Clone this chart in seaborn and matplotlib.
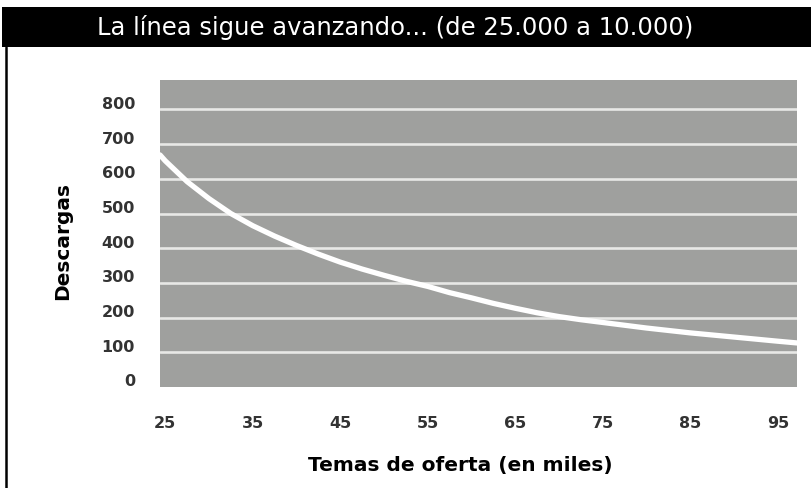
import matplotlib
matplotlib.use("Agg")
import matplotlib.pyplot as plt
import matplotlib.transforms as mtransforms
from matplotlib.patches import Rectangle
from matplotlib.lines import Line2D
import pandas as pd
import seaborn as sns

# values
temas = [24.4, 25, 27.5, 30, 32.5, 35, 37.5, 40, 42.5, 45, 47.5, 50, 52.5, 55, 57.5, 60,
         62.5, 65, 67.5, 70, 72.5, 75, 77.5, 80, 82.5, 85, 87.5, 90, 92.5, 95, 97.2]
descargas = [669, 652, 592, 543, 500, 465, 435, 408, 383, 360, 340, 322, 305, 290, 272, 257,
             241, 227, 214, 203, 194, 186, 178, 170, 163, 156, 150, 144, 138, 132, 127]
x_ticks = [25, 35, 45, 55, 65, 75, 85, 95]
y_ticks = [0, 100, 200, 300, 400, 500, 600, 700, 800]

df = pd.DataFrame({"Temas": temas, "Descargas": descargas})

sns.set_style("white")
plt.rcParams["font.family"] = ["DejaVu Sans"]

fig = plt.figure(figsize=(8.11, 4.88), dpi=100)
ax = fig.add_axes([160 / 811, 101 / 488, 637 / 811, 307 / 488])
ax.set_facecolor("#9fa09e")

for v in y_ticks[1:]:
    ax.axhline(v, color="#e8e8e6", linewidth=1.9, zorder=1)

sns.lineplot(data=df, x="Temas", y="Descargas", ax=ax, color="white",
             linewidth=3.8, zorder=3)

ax.set_xlim(24.4, 97.2)
ax.set_ylim(0, 885)
ax.set_xticks(x_ticks)
ax.set_yticks(y_ticks)
for s in ax.spines.values():
    s.set_visible(False)

ax.tick_params(axis="x", length=6, width=0.8, color="#c8c8c8", pad=15,
               labelsize=11.5, labelcolor="#333333")
ax.tick_params(axis="y", length=0, pad=18, labelsize=11.5, labelcolor="#333333")
for lab in ax.get_xticklabels() + ax.get_yticklabels():
    lab.set_fontweight("bold")
# labels of the y axis sit a bit above the gridlines
shift = mtransforms.ScaledTranslation(0, 6.5 / 100, fig.dpi_scale_trans)
for lab in ax.get_yticklabels():
    lab.set_transform(lab.get_transform() + shift)

ax.set_xlabel("Temas de oferta (en miles)", fontsize=14.5, fontweight="bold", color="black")
ax.set_ylabel("Descargas", fontsize=14.5, fontweight="bold", color="black")
ax.xaxis.set_label_coords((460 - 160) / 637, -(465 - 387) / 307)
ax.yaxis.set_label_coords(-(160 - 63) / 637, (387 - 241) / 307)
ax.xaxis.label.set_va("center")
ax.yaxis.label.set_va("center")

# black title band and the left border
fig.patches.append(Rectangle((2 / 811, 441 / 488), 1, 40 / 488, transform=fig.transFigure,
                             facecolor="black", edgecolor="none", zorder=0))
fig.lines.append(Line2D([6 / 811, 6 / 811], [0, 441 / 488], transform=fig.transFigure,
                        color="black", linewidth=1.8))
fig.text(395 / 811, 460 / 488, "La línea sigue avanzando... (de 25.000 a 10.000)",
         color="white", fontsize=17.5, ha="center", va="center")

plt.savefig("out.png", dpi=100)
plt.close("all")
